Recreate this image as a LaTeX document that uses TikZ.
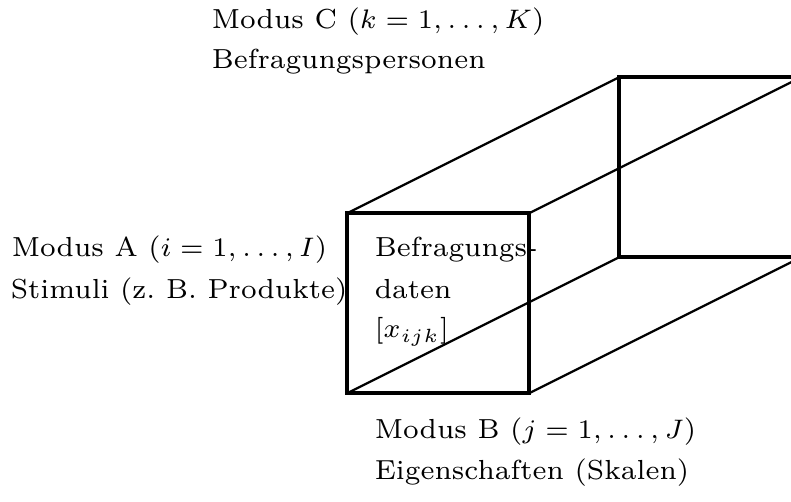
\documentclass[tikz,border=0pt]{standalone}
\begin{document}
\begin{tikzpicture}[x=0.2612pt,y=-0.2612pt,
  thickedge/.style={line width=0.95pt},
  thinedge/.style={line width=0.6pt},
  lbl/.style={anchor=base west, inner sep=0pt, font=\fontsize{7.2}{8}\selectfont}]
\useasboundingbox (0,0) rectangle (791,502);
% corners of the cuboid
\coordinate (FTL) at (347,213.3);
\coordinate (FTR) at (529,213.3);
\coordinate (FBR) at (529,393.3);
\coordinate (FBL) at (347,393.3);
\coordinate (BTL) at (619,77.3);
\coordinate (BTR) at (801,77.3);
\coordinate (BBR) at (801,257.3);
\coordinate (BBL) at (619,257.3);
\begin{scope}
\clip (0,0) rectangle (791,502);
\draw[thinedge] (FTL) -- (BTL);
\draw[thinedge] (FTR) -- (BTR);
\draw[thinedge] (FBR) -- (BBR);
\draw[thinedge] (FBL) -- (BBL);
\draw[thickedge] (BTL) rectangle (BBR);
\draw[thickedge] (FTL) rectangle (FBR);
\end{scope}
% labels
\node[lbl] (modC) at (211,28.3) {Modus C ($k = 1, \ldots, K$)};
\node[lbl] (persC) at (211,68.3) {Befragungspersonen};
\node[lbl] (modA) at (11,257) {Modus A ($i = 1, \ldots, I$)};
\node[lbl] (stimA) at (10,299) {Stimuli (z.\ B. Produkte)};
\node[lbl] (dat1) at (374,257) {Befragungs-};
\node[lbl] (dat2) at (374,299) {daten};
\node[lbl] (dat3) at (374,338) {$[x_{ijk}]$};
\node[lbl] (modB) at (374,438.3) {Modus B ($j = 1, \ldots, J$)};
\node[lbl] (eigB) at (374,480) {Eigenschaften (Skalen)};
\end{tikzpicture}
\end{document}
